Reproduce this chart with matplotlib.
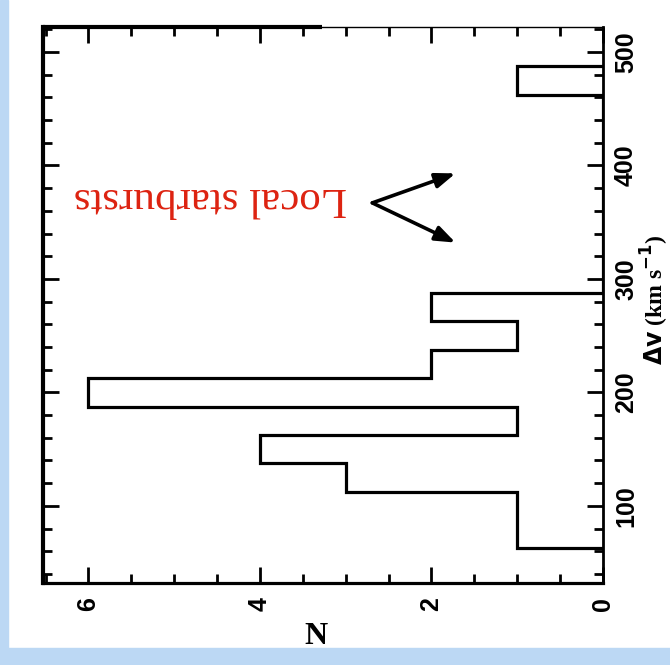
import matplotlib
matplotlib.use("Agg")
import matplotlib.pyplot as plt
from matplotlib.patches import Rectangle
from matplotlib.font_manager import FontProperties
import numpy as np

# Data: histogram of velocity offsets
bin_edges = [62.5, 87.5, 112.5, 137.5, 162.5, 187.5, 212.5, 237.5, 262.5, 287.5,
             312.5, 337.5, 362.5, 387.5, 412.5, 437.5, 462.5, 487.5]
counts = [1, 1, 3, 4, 1, 6, 2, 1, 2, 0, 0, 0, 0, 0, 0, 0, 1]

dv_ticks = [100, 200, 300, 400, 500]
n_ticks = [0, 2, 4, 6]
dv_label = r"$\mathbf{\Delta v}$ (km s$^{\mathbf{-1}}$)"
n_label = "N"
annot_text = "Local starbursts"

W, H = 670, 665
fig = plt.figure(figsize=(W / 100, H / 100), dpi=100)
fig.patch.set_facecolor("white")

# light blue slide background strips
blue = "#bcd8f4"
fig.add_artist(Rectangle((0, 0), 8 / W, 1, transform=fig.transFigure, color=blue, zorder=0))
fig.add_artist(Rectangle((0, 0), 1, 17 / H, transform=fig.transFigure, color=blue, zorder=0))

left, right, top, bottom = 43, 603, 27, 583
ax = fig.add_axes([left / W, (H - bottom) / H, (right - left) / W, (bottom - top) / H])

ax.stairs(counts, bin_edges, orientation="horizontal", baseline=0,
          color="black", linewidth=2.3)

ax.set_xlim(6.53, 0)
ax.set_ylim(32, 522)

ax.set_xticks(n_ticks)
ax.set_xticks(np.arange(0, 6.6, 0.5), minor=True)
ax.set_yticks(dv_ticks)
ax.set_yticks(np.arange(40, 521, 20), minor=True)

ax.tick_params(axis="both", which="both", direction="in", color="black",
               top=True, bottom=True, left=True, right=True,
               labelleft=False, labelright=True, labelbottom=True, labeltop=False)
ax.tick_params(which="major", length=11.5, width=2.0)
ax.tick_params(which="minor", length=6.5, width=2.0)
ax.tick_params(axis="y", which="major", pad=8)
ax.tick_params(axis="x", which="major", pad=10)

fp = FontProperties(family="Liberation Sans", weight="bold", size=18)
for lab in ax.get_yticklabels():
    lab.set_rotation(90)
    lab.set_va("center")
    lab.set_ha("left")
    lab.set_fontproperties(fp)
for lab in ax.get_xticklabels():
    lab.set_rotation(90)
    lab.set_va("top")
    lab.set_ha("center")
    lab.set_fontproperties(fp)

for side, lw in [("left", 3.0), ("bottom", 2.3), ("right", 2.0), ("top", 1.0)]:
    ax.spines[side].set_linewidth(lw)
    ax.spines[side].set_color("black")

# thick part of the top frame
ax.plot([6.53, (603 - 322) / 85.8], [522, 522], color="black", lw=3.0,
        clip_on=False, solid_capstyle="butt", zorder=5)

# axis labels positioned in figure pixels
fig.text(655 / W, 1 - 300 / H, dv_label, rotation=90, ha="center", va="center",
         fontsize=17, family="Liberation Serif", weight="bold")
fig.text(316 / W, 1 - 636 / H, n_label, ha="center", va="center",
         fontsize=23, family="Liberation Serif", weight="bold")

# annotation
ax.text(4.58, 371, annot_text, rotation=180, ha="center", va="center",
        fontsize=31, family="Liberation Serif", color="#dd2210")
for tip in [(1.72, 393), (1.72, 332)]:
    ax.annotate("", xy=tip, xytext=(2.69, 367),
                arrowprops=dict(arrowstyle="-|>,head_length=1.2,head_width=0.45",
                                color="black", lw=2.6, shrinkA=0, shrinkB=0))

fig.savefig("out.png", dpi=100, facecolor=fig.get_facecolor())
